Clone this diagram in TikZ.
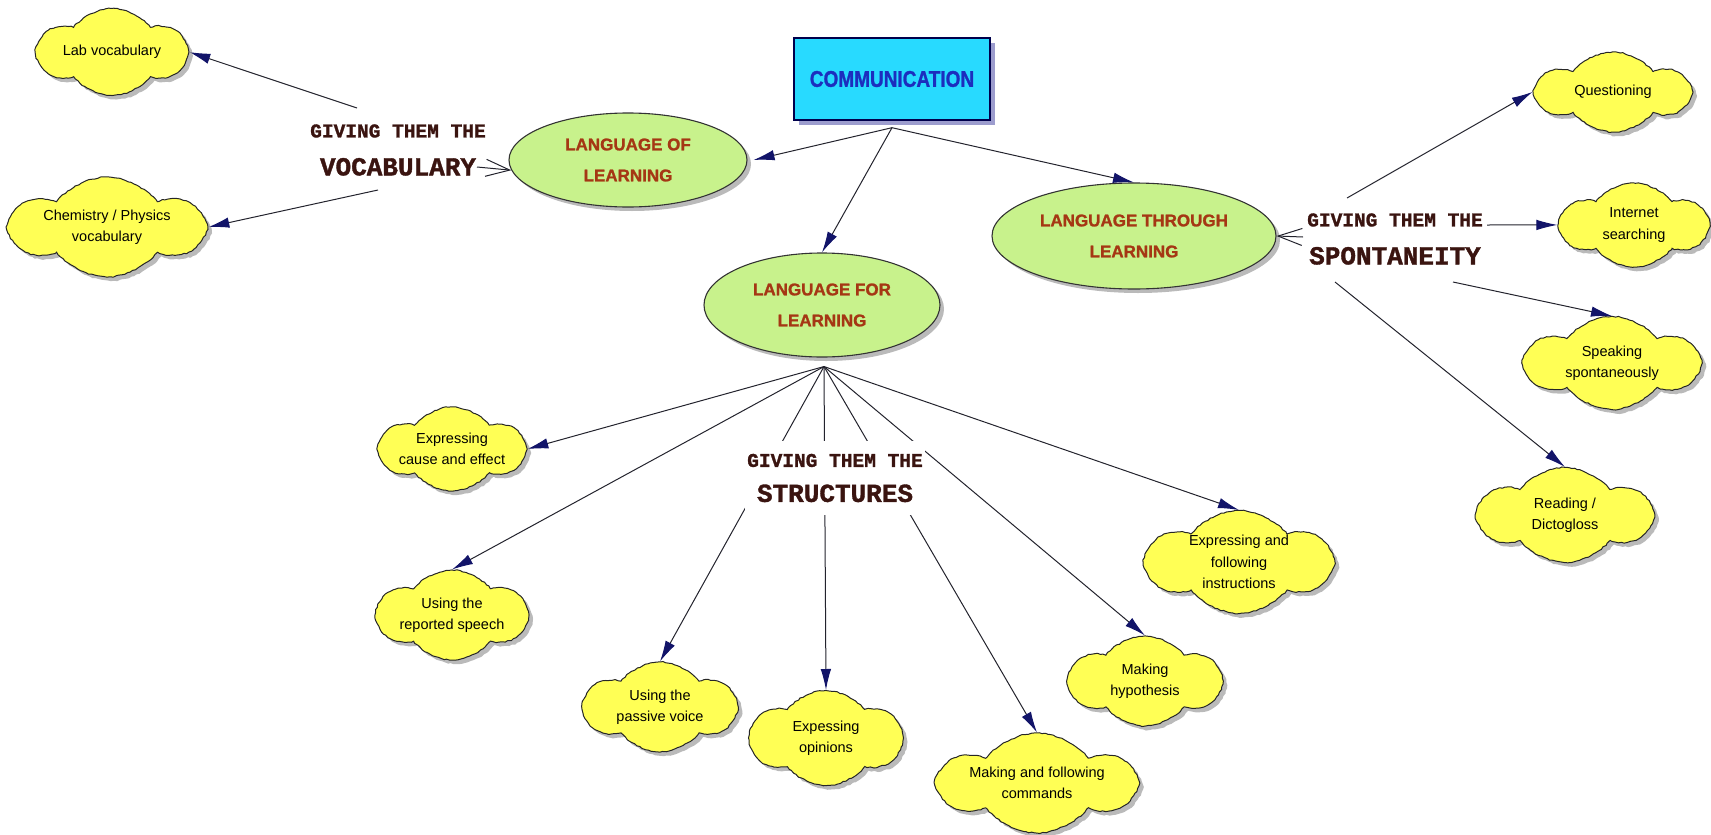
\documentclass[tikz,border=0pt]{standalone}
\usepackage{fontspec}
\usepackage{graphicx}
\setmainfont{Liberation Sans}
\setmonofont{Liberation Mono}[BoldFeatures={FakeBold=1.4}]
\newfontfamily\heavyfont{Liberation Sans}[BoldFeatures={FakeBold=1.3}]
\usetikzlibrary{shapes.symbols,shapes.geometric,shadows,arrows.meta,calc,backgrounds,decorations.pathmorphing}

\definecolor{cloudfill}{RGB}{255,255,85}
\definecolor{areafill}{RGB}{200,242,140}
\definecolor{areatext}{RGB}{165,55,20}
\definecolor{topfill}{RGB}{40,218,255}
\definecolor{toptext}{RGB}{28,46,190}
\definecolor{phrasetext}{RGB}{58,20,16}
\definecolor{tipnavy}{RGB}{18,20,105}
\definecolor{wire}{RGB}{35,35,45}

\tikzset{
  softshadow/.style={drop shadow={shadow xshift=4pt, shadow yshift=-4pt, fill=black!45, opacity=0.6}},
  idea/.style={cloud, cloud puffs=6, cloud puff arc=105, cloud ignores aspect,
    draw=black!85, line width=1pt, fill=cloudfill, inner sep=0pt, align=center,
    decorate, decoration={random steps, segment length=3pt, amplitude=0.6pt},
    font=\fontsize{14.5}{21.5}\selectfont, softshadow},
  area/.style={ellipse, draw=black!80, line width=1.1pt, fill=areafill, inner sep=0pt,
    align=center, text=areatext, font=\heavyfont\bfseries\fontsize{17}{31}\selectfont, softshadow},
  topic/.style={rectangle, draw=black!70!blue, line width=1.4pt, fill=topfill,
    minimum width=196pt, minimum height=82pt, text=toptext,
    font=\heavyfont\bfseries\fontsize{19}{23}\selectfont,
    drop shadow={shadow xshift=5pt, shadow yshift=-5pt, fill=black!50!blue!70, opacity=0.55}},
  phrase/.style={fill=white, align=center, text=phrasetext, inner xsep=2pt, inner ysep=13pt,
    font=\ttfamily\bfseries\fontsize{26}{38}\selectfont},
  wire/.style={draw=wire, line width=1pt},
  link/.style={wire, -{Latex[length=21pt,width=10.5pt,color=tipnavy]}},
  hook/.style={wire, -{Straight Barb[length=24pt,width=17pt]}},
}
\newcommand{\lead}[1]{{\fontsize{19.5}{24}\selectfont #1}}

\begin{document}
\begin{tikzpicture}[x=1pt, y=-1pt]
\useasboundingbox (0,0) rectangle (1711,835);

% central topic and the three areas
\node[topic] (comm) at (892,79) {\scalebox{1}[1.2]{COMMUNICATION}};
\node[area, minimum width=238pt, minimum height=94pt] (lol) at (628,160) {LANGUAGE OF\\LEARNING};
\node[area, minimum width=236pt, minimum height=104pt] (lfl) at (822,305) {LANGUAGE FOR\\LEARNING};
\node[area, minimum width=284pt, minimum height=106pt] (ltl) at (1134,236) {LANGUAGE THROUGH\\LEARNING};

% linking phrases
\node[phrase] (vocab) at (398,150) {\lead{GIVING THEM THE}\\VOCABULARY};
\node[phrase] (spont) at (1395,239) {\lead{GIVING THEM THE}\\SPONTANEITY};
\node[phrase, font=\ttfamily\bfseries\fontsize{26}{35}\selectfont] (struct) at (835,478) {\lead{GIVING THEM THE}\\STRUCTURES};

% vocabulary
\node[idea, minimum width=147pt, minimum height=87pt] (labv) at (112,52) {Lab vocabulary};
\node[idea, minimum width=189pt, minimum height=100pt] (chem) at (107,227) {Chemistry / Physics\\vocabulary};

% spontaneity
\node[idea, minimum width=150pt, minimum height=80pt] (quest) at (1613,92) {Questioning};
\node[idea, minimum width=145pt, minimum height=84pt] (inet) at (1634,225) {Internet\\searching};
\node[idea, minimum width=170pt, minimum height=93pt] (speak) at (1612,363) {Speaking\\spontaneously};
\node[idea, minimum width=170pt, minimum height=95pt] (read) at (1565,515) {Reading /\\Dictogloss};

% structures
\node[idea, minimum width=143pt, minimum height=84pt] (cause) at (452,449) {Expressing\\cause and effect};
\node[idea, minimum width=148pt, minimum height=90pt] (repsp) at (452,615) {Using the\\reported speech};
\node[idea, minimum width=150pt, minimum height=90pt] (passive) at (660,707) {Using the\\passive voice};
\node[idea, minimum width=150pt, minimum height=95pt] (opin) at (826,738) {Expessing\\opinions};
\node[idea, minimum width=192pt, minimum height=100pt] (cmds) at (1037,783) {Making and following\\commands};
\node[idea, minimum width=150pt, minimum height=90pt] (hypo) at (1145,681) {Making\\hypothesis};
\node[idea, minimum width=182pt, minimum height=103pt] (instr) at (1239,562) {Expressing and\\following\\instructions};

\coordinate (commhub) at ($(comm.south)+(0,7)$);
\coordinate (lflhub) at ($(lfl.south)+(2,9)$);

\begin{scope}[on background layer]
  \draw[link] (commhub) -- ([xshift=6pt]lol.east);
  \draw[link] (commhub) -- (lfl.north);
  \draw[link] (commhub) -- (ltl.north);
  \draw[link] ($(vocab)+(-41,-42)$) -- (labv.east);
  \draw[link] ($(vocab)+(-20,40)$) -- (chem.east);
  \draw[link] ($(spont)+(-48,-41)$) -- (quest.west);
  \draw[link] ($(spont)+(92,-14)$) -- (inet.west);
  \draw[link] ($(spont)+(58,43)$) -- (speak.north);
  \draw[link] ($(spont)+(-60,43)$) -- (read.north);
  \foreach \goal/\side in {cause/east, repsp/north, passive/north, opin/north,
                           cmds/north, hypo/north, instr/north}
    \draw[link] (lflhub) -- (\goal.\side);
\end{scope}

% phrases pointing back to their areas
\draw[hook] ($(vocab)+(79,17)$) -- (lol.185);
\draw[hook] ($(spont)+(-92,-2)$) -- (ltl.east);
\end{tikzpicture}
\end{document}
